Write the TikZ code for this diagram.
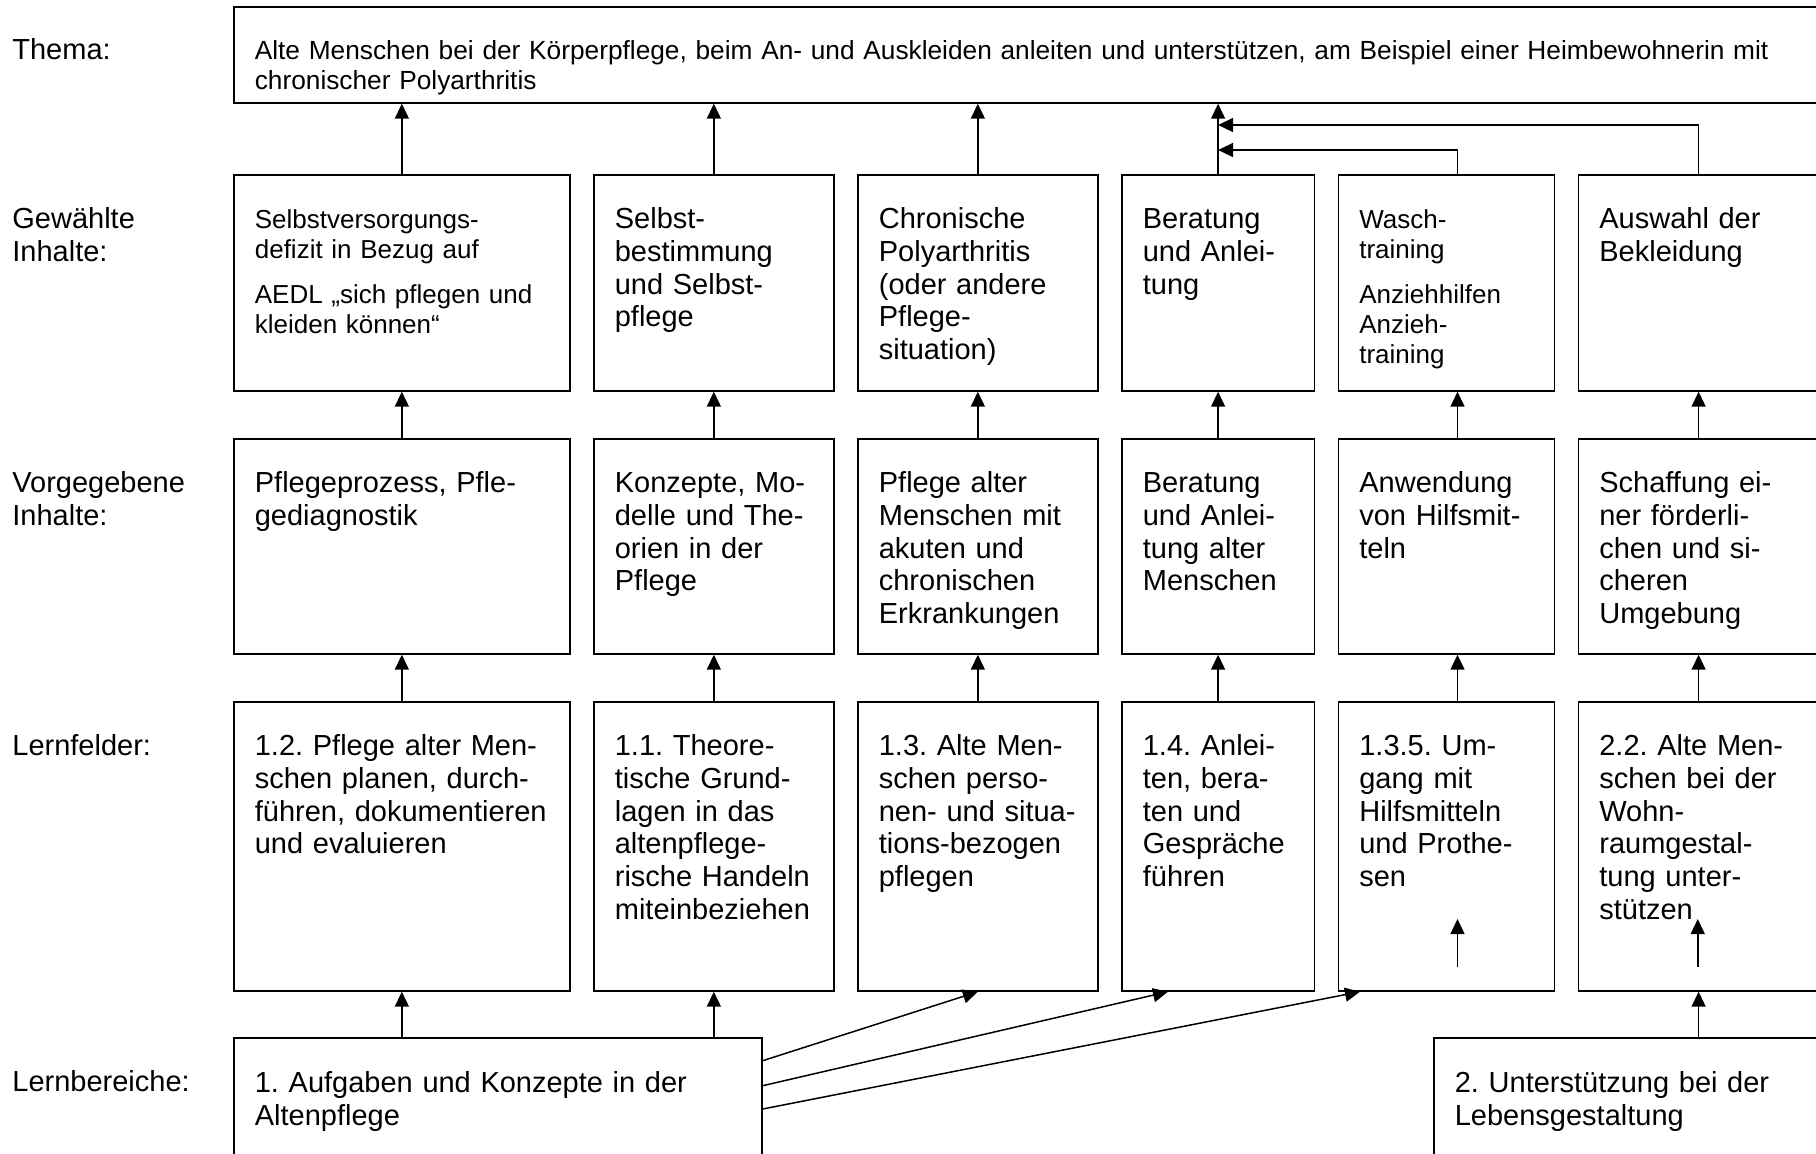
\documentclass[tikz,border=0pt]{standalone}
\usepackage{fontspec}
\setmainfont{Liberation Sans}
\usepackage{tikz}
\usetikzlibrary{arrows.meta, positioning, calc}
\frenchspacing

\newcommand{\grossschrift}{\fontsize{14.5pt}{16.35pt}\selectfont}
\newcommand{\kleinschrift}{\fontsize{13pt}{14.9pt}\selectfont}

\begin{document}
\begin{tikzpicture}[x=0.5pt, y=-0.5pt,
    kasten/.style={draw, line width=0.85pt, anchor=north west, align=left, inner xsep=10.5pt, inner ysep=0pt, text height=27pt, font=\grossschrift},
    reiheG/.style={kasten, text depth=81pt},
    reiheV/.style={kasten, text depth=80.5pt},
    reiheL/.style={kasten, text depth=117.5pt},
    reiheB/.style={kasten, text depth=70pt},
    zeile/.style={anchor=north west, align=left, text width=100pt, inner xsep=6pt, inner ysep=0pt, text height=27pt, font=\grossschrift},
    pfeil/.style={-{Triangle[length=7.5pt, width=7pt]}, line width=0.75pt}]
    \useasboundingbox (0,0) rectangle (1816,1153);
    \clip (0,0) rectangle (1816,1153);

    % Zeilenbeschriftung
    \node[zeile, text height=26.5pt] (lthema) at (0,6) {Thema:};
    \node[zeile] (lgew) at (0,174) {Gewählte\\Inhalte:};
    \node[zeile] (lvor) at (0,438) {Vorgegebene\\Inhalte:};
    \node[zeile] (lfeld) at (0,701) {Lernfelder:};
    \node[zeile] (lber) at (0,1037) {Lernbereiche:};

    % Thema
    \node[kasten, text width=900pt, text height=26.5pt, text depth=21.5pt, font={\fontsize{13.13pt}{14.9pt}\selectfont}] (thema) at (233,6)
        {Alte Menschen bei der Körperpflege, beim An- und Auskleiden anleiten und unterstützen, am Beispiel einer Heimbewohnerin mit\\chronischer Polyarthritis};

    % Gewählte Inhalte
    \node[reiheG, text width=147pt, font=\kleinschrift] (g1) at (233,174) {Selbstversorgungs-\\defizit in Bezug auf\\[7.5pt]AEDL „sich pflegen und\\kleiden können“};
    \node[reiheG, text width=99pt] (g2) at (593,174) {Selbst-\\bestimmung\\und Selbst-\\pflege};
    \node[reiheG, text width=99pt] (g3) at (857,174) {Chronische\\Polyarthritis\\(oder andere\\Pflege-\\situation)};
    \node[reiheG, text width=75.25pt] (g4) at (1121,174) {Beratung\\und Anlei-\\tung};
    \node[reiheG, text width=87pt, font=\kleinschrift] (g5) at (1337.5,174) {Wasch-\\training\\[7.5pt]Anziehhilfen\\Anzieh-\\training};
    \node[reiheG, text width=99.25pt] (g6) at (1577.5,174) {Auswahl der\\Bekleidung};

    % Vorgegebene Inhalte
    \node[reiheV, text width=147pt] (v1) at (233,438) {Pflegeprozess, Pfle-\\gediagnostik};
    \node[reiheV, text width=99pt] (v2) at (593,438) {Konzepte, Mo-\\delle und The-\\orien in der\\Pflege};
    \node[reiheV, text width=99pt] (v3) at (857,438) {Pflege alter\\Menschen mit\\akuten und\\chronischen\\Erkrankungen};
    \node[reiheV, text width=75.25pt] (v4) at (1121,438) {Beratung\\und Anlei-\\tung alter\\Menschen};
    \node[reiheV, text width=87pt] (v5) at (1337.5,438) {Anwendung\\von Hilfsmit-\\teln};
    \node[reiheV, text width=99.25pt] (v6) at (1577.5,438) {Schaffung ei-\\ner förderli-\\chen und si-\\cheren\\Umgebung};

    % Lernfelder
    \node[reiheL, text width=147pt] (l1) at (233,701) {1.2. Pflege alter Men-\\schen planen, durch-\\führen, dokumentieren\\und evaluieren};
    \node[reiheL, text width=99pt] (l2) at (593,701) {1.1. Theore-\\tische Grund-\\lagen in das\\altenpflege-\\rische Handeln\\miteinbeziehen};
    \node[reiheL, text width=99pt] (l3) at (857,701) {1.3. Alte Men-\\schen perso-\\nen- und situa-\\tions-bezogen\\pflegen};
    \node[reiheL, text width=75.25pt] (l4) at (1121,701) {1.4. Anlei-\\ten, bera-\\ten und\\Gespräche\\führen};
    \node[reiheL, text width=87pt] (l5) at (1337.5,701) {1.3.5. Um-\\gang mit\\Hilfsmitteln\\und Prothe-\\sen};
    \node[reiheL, text width=99.25pt] (l6) at (1577.5,701) {2.2. Alte Men-\\schen bei der\\Wohn-\\raumgestal-\\tung unter-\\stützen};

    % Lernbereiche
    \node[reiheB, text height=27.5pt, text width=243pt] (b1) at (233,1037) {1. Aufgaben und Konzepte in der\\Altenpflege};
    \node[reiheB, text height=27.5pt, text width=190pt] (b2) at (1433,1037) {2. Unterstützung bei der\\Lebensgestaltung};

    \coordinate (a5) at (1457.5,0);
    \coordinate (i5) at (1457.5,967);
    \coordinate (i6) at (1697.75,967);

    % Pfeile zum Thema
    \draw[pfeil] (g1.north) -- (g1.north |- thema.south);
    \draw[pfeil] (g2.north) -- (g2.north |- thema.south);
    \draw[pfeil] (g3.north) -- (g3.north |- thema.south);
    \draw[pfeil] (g4.north) -- (g4.north |- thema.south);
    \draw[pfeil] (g5.north -| a5) |- (g4.north |- 0,150);
    \draw[pfeil] (g6.north) |- (g4.north |- 0,125);

    % Vorgegebene -> Gewählte
    \draw[pfeil] (v1.north) -- (g1.south);
    \draw[pfeil] (v2.north) -- (g2.south);
    \draw[pfeil] (v3.north) -- (g3.south);
    \draw[pfeil] (v4.north) -- (g4.south);
    \draw[pfeil] (v5.north -| a5) -- (g5.south -| a5);
    \draw[pfeil] (v6.north) -- (g6.south);

    % Lernfelder -> Vorgegebene
    \draw[pfeil] (l1.north) -- (v1.south);
    \draw[pfeil] (l2.north) -- (v2.south);
    \draw[pfeil] (l3.north) -- (v3.south);
    \draw[pfeil] (l4.north) -- (v4.south);
    \draw[pfeil] (l5.north -| a5) -- (v5.south -| a5);
    \draw[pfeil] (l6.north) -- (v6.south);
    \draw[pfeil] (i5) -- ++(0,-48);
    \draw[pfeil] (i6) -- ++(0,-48);

    % Lernbereiche -> Lernfelder
    \draw[pfeil] (b1.north -| l1.south) -- (l1.south);
    \draw[pfeil] (b1.north -| l2.south) -- (l2.south);
    \draw[pfeil] (b2.north -| l6.south) -- (l6.south);
    \draw[pfeil] ([yshift=-11.85pt]b1.north east) -- (l3.south);
    \draw[pfeil] ([yshift=-24.35pt]b1.north east) -- ([xshift=23.5pt]l4.south west);
    \draw[pfeil] ([yshift=-36pt]b1.north east) -- ([xshift=11.25pt]l5.south west);
\end{tikzpicture}
\end{document}
